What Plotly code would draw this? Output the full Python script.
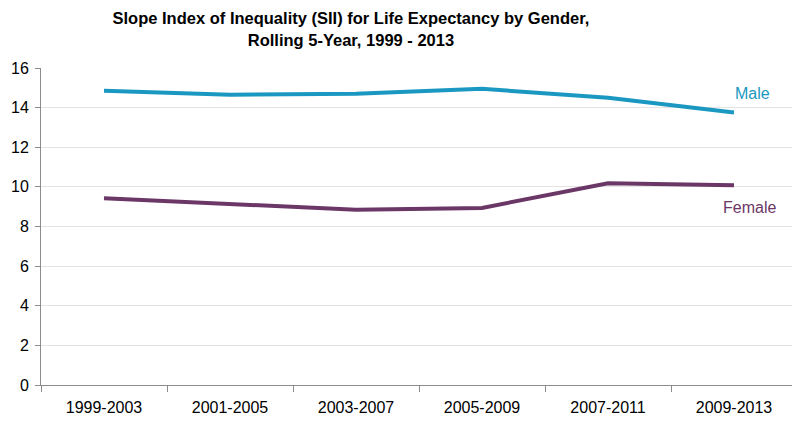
import plotly.graph_objects as go

categories = ["1999-2003", "2001-2005", "2003-2007", "2005-2009", "2007-2011", "2009-2013"]
male = [14.85, 14.65, 14.7, 14.95, 14.5, 13.75]
female = [9.42, 9.15, 8.85, 8.94, 10.18, 10.08]
yticks = [0, 2, 4, 6, 8, 10, 12, 14, 16]

male_color = "#1a98c1"
female_color = "#6b3767"
font_family = "Liberation Sans, Arial, sans-serif"

fig = go.Figure()
fig.add_trace(go.Scatter(x=categories, y=male, mode="lines", name="Male",
                         line=dict(color=male_color, width=4)))
fig.add_trace(go.Scatter(x=categories, y=female, mode="lines", name="Female",
                         line=dict(color=female_color, width=4)))

fig.add_annotation(x=1.0, xref="paper", y=14.7, yref="y", text="Male", showarrow=False,
                   xanchor="right", xshift=-25, font=dict(color=male_color, size=16, family=font_family))
fig.add_annotation(x=1.0, xref="paper", y=8.94, yref="y", text="Female", showarrow=False,
                   xanchor="right", xshift=-19, font=dict(color=female_color, size=16, family=font_family))

fig.update_layout(
    width=792, height=424,
    margin=dict(l=33, r=3, t=60, b=47),
    paper_bgcolor="white", plot_bgcolor="white",
    showlegend=False,
    font=dict(family=font_family, color="#000000", size=15),
    title=dict(text="<b>Slope Index of Inequality (SII) for Life Expectancy by Gender,<br>Rolling 5-Year, 1999 - 2013</b>",
               x=0.433, xanchor="center", y=0.962, yanchor="top",
               font=dict(size=16.5, color="#000000", family=font_family)),
)
fig.update_xaxes(range=[-0.5, 5.5], showline=True, linecolor="#8c8c8c", linewidth=1,
                 ticks="outside", tickson="boundaries", ticklen=6, tickcolor="#8c8c8c",
                 ticklabelstandoff=8, automargin=False,
                 showgrid=False, tickfont=dict(size=16, color="#000000"))
fig.update_yaxes(range=[0, 16], tickvals=yticks, showline=True, linecolor="#8c8c8c", linewidth=1,
                 ticks="outside", ticklen=5, tickcolor="#8c8c8c",
                 ticklabelstandoff=3, automargin=False,
                 showgrid=True, gridcolor="#e3e3e3", zeroline=False,
                 tickfont=dict(size=16, color="#000000"))

fig.write_html("out.html")
